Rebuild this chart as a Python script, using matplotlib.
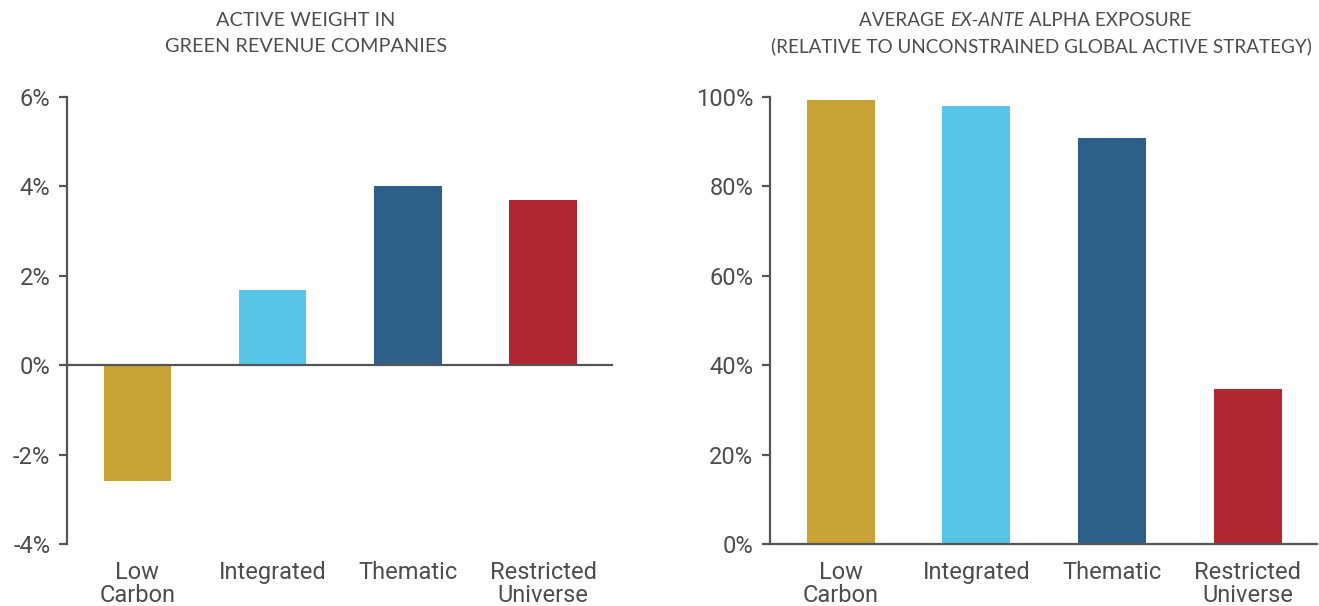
import matplotlib
matplotlib.use('Agg')
import matplotlib.pyplot as plt
import numpy as np

# Данные
categories = ['Low\nCarbon', 'Integrated', 'Thematic', 'Restricted\nUniverse']
colors = ['#C8A235', '#56C5E6', '#2C5F8A', '#B02631']
active_weight = [-2.6, 1.68, 4.02, 3.69]
alpha_exposure = [99.3, 98.0, 90.8, 34.7]
left_ticks = [-4, -2, 0, 2, 4, 6]
right_ticks = [0, 20, 40, 60, 80, 100]

grey = '#555555'
text_grey = '#4d4d4d'
plt.rcParams['font.family'] = ['Roboto', 'DejaVu Sans']

fig = plt.figure(figsize=(13.19, 6.06), dpi=100)
ax1 = fig.add_axes([0.0508, 0.1023, 0.4132, 0.7376])
ax2 = fig.add_axes([0.5838, 0.1023, 0.4147, 0.7376])

x = np.arange(len(categories))


def style_axis(ax, ticks):
    for s in ['top', 'right', 'bottom']:
        ax.spines[s].set_visible(False)
    ax.spines['left'].set_color(grey)
    ax.spines['left'].set_linewidth(1.6)
    ax.set_yticks(ticks)
    ax.set_yticklabels([f'{t}%' for t in ticks])
    ax.tick_params(axis='y', colors=grey, labelcolor=text_grey, labelsize=17,
                   length=6, width=1.6, pad=6)
    ax.tick_params(axis='x', length=0, labelcolor=text_grey, labelsize=17, pad=12)
    ax.set_xticks(x)
    ax.set_xticklabels(categories, linespacing=1.0)
    ax.set_xlim(-0.52, 3.51)
    ax.set_ylim(ticks[0], ticks[-1])
    ax.axhline(0, color=grey, lw=1.6, zorder=3, clip_on=False)


ax1.bar(x, active_weight, width=0.5, color=colors)
style_axis(ax1, left_ticks)

ax2.bar(x, alpha_exposure, width=0.5, color=colors)
style_axis(ax2, right_ticks)

# Заголовки
tkw = dict(fontsize=14.3, color=text_grey, family=['Lato', 'DejaVu Sans'])
fig.text(306 / 1319, 1 - 20 / 606, 'ACTIVE WEIGHT IN', ha='center', va='center', **tkw)
fig.text(306 / 1319, 1 - 46 / 606, 'GREEN REVENUE COMPANIES', ha='center', va='center', **tkw)

tkw['fontsize'] = 13.6
fig.text(1041 / 1319, 1 - 46 / 606, '(RELATIVE TO UNCONSTRAINED GLOBAL ACTIVE STRATEGY)',
         ha='center', va='center', **tkw)

# первая строка правого заголовка с курсивом
parts = [('AVERAGE ', 'normal'), ('EX-ANTE', 'italic'), (' ALPHA EXPOSURE', 'normal')]
fig.canvas.draw()
r = fig.canvas.get_renderer()
texts = []
for s, st in parts:
    t = fig.text(0, 1 - 20 / 606, s, ha='left', va='center', style=st, **tkw)
    texts.append(t)
widths = [t.get_window_extent(r).width for t in texts]
xpos = 1025 - sum(widths) / 2
for t, w in zip(texts, widths):
    t.set_x(xpos / 1319)
    xpos += w

fig.savefig('out.png', dpi=100)
